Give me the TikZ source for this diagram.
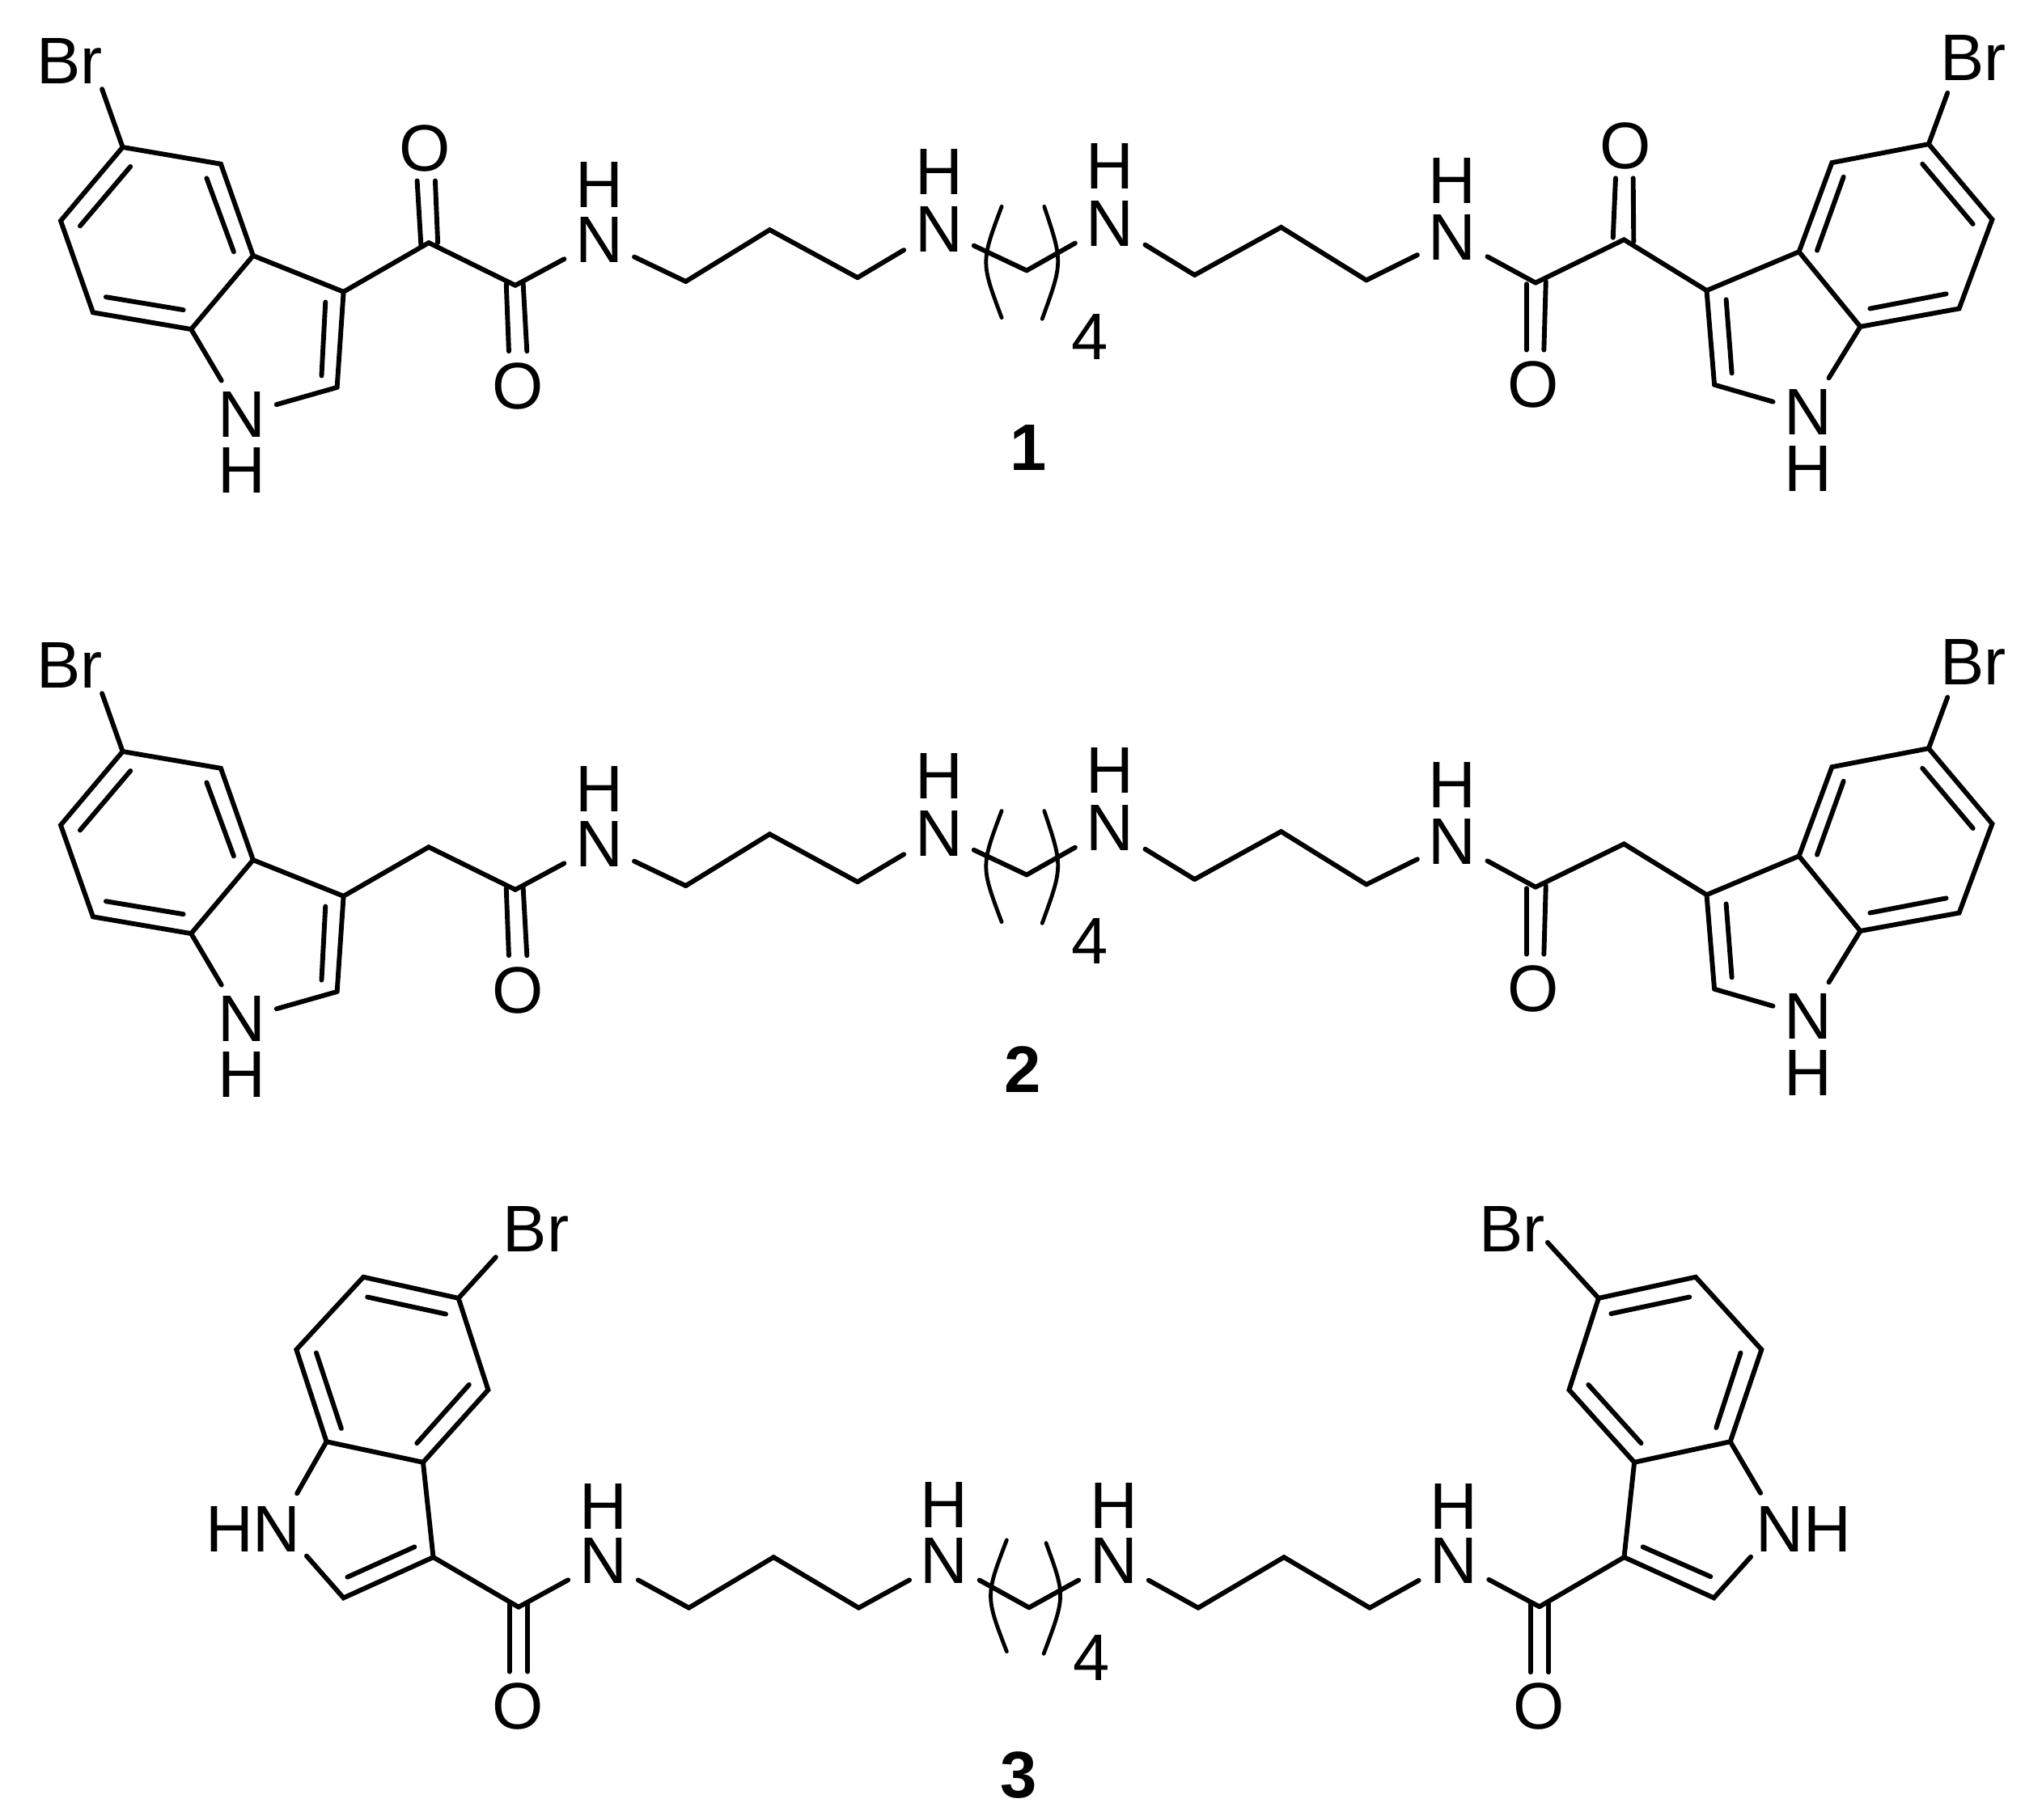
\documentclass[tikz,border=0pt]{standalone}
\usepackage{fontspec}
\setmainfont{Liberation Sans}
\tikzset{
  bond/.style={line width=1.05pt,line cap=round},
  brace/.style={line width=0.85pt,line cap=round},
  atom/.style={inner sep=0.08cm,font=\fontsize{14.5}{14.5}\selectfont},
  cmpd/.style={inner sep=0pt,font=\fontsize{14.5}{14.5}\selectfont\bfseries}
}
\begin{document}
\begin{tikzpicture}[x=0.01cm,y=-0.01cm]
\useasboundingbox (0,0) rectangle (1568,1409);
\foreach \row/\dy in {a/0,b/468}{
\begin{scope}[shift={(0,\dy)},name prefix=\row-]
  \coordinate (C5) at (95,114); \coordinate (C4) at (171,127); \coordinate (C3a) at (196,198);
  \coordinate (C7a) at (148,255); \coordinate (C7) at (72,242); \coordinate (C6) at (47,171);
  \coordinate (C3) at (266,226); \coordinate (C2) at (261,300); \coordinate (BrEnd) at (79,69);
  \coordinate (CK) at (332,188); \coordinate (CO) at (399,221);
  \coordinate (Ca) at (531,218); \coordinate (Cb) at (596,178); \coordinate (Cc) at (664,215);
  \coordinate (Cd) at (795,209.5);
  \coordinate (Ce) at (925,213); \coordinate (Cf) at (992,176); \coordinate (Cg) at (1058,217);
  \coordinate (cO) at (1189,219); \coordinate (cK) at (1257.5,185.6); \coordinate (c3) at (1321.5,225);
  \coordinate (c2) at (1327.5,298); \coordinate (c3a) at (1393,195); \coordinate (c4) at (1418.5,126);
  \coordinate (c5) at (1493.4,111.6); \coordinate (c6) at (1542.6,170); \coordinate (c7) at (1517,239);
  \coordinate (c7a) at (1440.5,253); \coordinate (brEnd) at (1508,72);
  \coordinate (d1) at (101,129); \coordinate (d2) at (62,175);
  \coordinate (d3) at (160,138); \coordinate (d4) at (181,195);
  \coordinate (d5) at (82,230); \coordinate (d6) at (142,240);
  \coordinate (d7) at (252,234); \coordinate (d8) at (249,291);
  \coordinate (e1) at (1488.6,127); \coordinate (e2) at (1527.7,173.5);
  \coordinate (e3) at (1427.5,137); \coordinate (e4) at (1407,194);
  \coordinate (e5) at (1448,239); \coordinate (e6) at (1507,227.6);
  \coordinate (e7) at (1336.6,232); \coordinate (e8) at (1341,289);
  \coordinate (f1) at (392,220); \coordinate (f2) at (394,272);
  \coordinate (f3) at (405,218); \coordinate (f4) at (408,272);
  \coordinate (g1) at (1182,220); \coordinate (g2) at (1182,271);
  \coordinate (g3) at (1197,218); \coordinate (g4) at (1195.5,271);
  \coordinate (pa) at (775.6,160); \coordinate (pb) at (775.6,246);
  \coordinate (pc) at (808.6,160); \coordinate (pd) at (807,247);
  \node[atom] (Br) at (54,47) {Br};
  \node[atom] (N1) at (187,321) {N};
  \node[atom] (H1) at (187,364) {H};
  \node[atom] (O1) at (401,299) {O};
  \node[atom] (N2) at (464,186) {N};
  \node[atom] (H2) at (464,143) {H};
  \node[atom] (N3) at (727,177.5) {N};
  \node[atom] (H3) at (727,133) {H};
  \node[atom] (N4) at (859.6,173) {N};
  \node[atom] (H4) at (859.6,129) {H};
  \node[atom] (N5) at (1124.6,184) {N};
  \node[atom] (H5) at (1124.6,140) {H};
  \node[atom] (O2) at (1187,297.6) {O};
  \node[atom] (N6) at (1400,319) {N};
  \node[atom] (H6) at (1400,363) {H};
  \node[atom] (br) at (1528,45) {Br};
  \node[atom] (four) at (844,261) {4};
  \draw[bond] (C5)--(C4)--(C3a)--(C7a)--(C7)--(C6)--cycle;
  \draw[bond] (C5)--(BrEnd);
  \draw[bond] (d1)--(d2); \draw[bond] (d3)--(d4); \draw[bond] (d5)--(d6); \draw[bond] (d7)--(d8);
  \draw[bond] (C7a)--(N1); \draw[bond] (N1)--(C2);
  \draw[bond] (C2)--(C3)--(C3a);
  \draw[bond] (C3)--(CK)--(CO);
  \draw[bond] (f1)--(f2); \draw[bond] (f3)--(f4);
  \draw[bond] (CO)--(N2); \draw[bond] (N2)--(Ca);
  \draw[bond] (Ca)--(Cb)--(Cc); \draw[bond] (Cc)--(N3);
  \draw[bond] (N3)--(Cd); \draw[bond] (Cd)--(N4);
  \draw[bond] (N4)--(Ce); \draw[bond] (Ce)--(Cf)--(Cg); \draw[bond] (Cg)--(N5);
  \draw[bond] (N5)--(cO); \draw[bond] (cO)--(cK)--(c3);
  \draw[bond] (g1)--(g2); \draw[bond] (g3)--(g4);
  \draw[bond] (c3)--(c2); \draw[bond] (c2)--(N6); \draw[bond] (N6)--(c7a);
  \draw[bond] (c3)--(c3a);
  \draw[bond] (c5)--(c4)--(c3a)--(c7a)--(c7)--(c6)--cycle;
  \draw[bond] (c5)--(brEnd);
  \draw[bond] (e1)--(e2); \draw[bond] (e3)--(e4); \draw[bond] (e5)--(e6); \draw[bond] (e7)--(e8);
  \draw[brace] (pa) .. controls (759.5,203) .. (pb);
  \draw[brace] (pc) .. controls (823,203) .. (pd);
\end{scope}
}
  \coordinate (k1) at (326,190); \coordinate (k2) at (323,140);
  \coordinate (k3) at (339,188); \coordinate (k4) at (337,140);
  \coordinate (k5) at (1249,184); \coordinate (k6) at (1251,138);
  \coordinate (k7) at (1265,187); \coordinate (k8) at (1264.6,138);
  \node[atom] (O3) at (329,115) {O};
  \node[atom] (O4) at (1258.6,113) {O};
  \draw[bond] (k1)--(k2); \draw[bond] (k3)--(k4);
  \draw[bond] (k5)--(k6); \draw[bond] (k7)--(k8);
  \node[cmpd] (one) at (796,347) {1};
  \node[cmpd] (two) at (792,828) {2};

  \coordinate (C5) at (355,1005.4); \coordinate (C4) at (378,1076.4); \coordinate (C3a) at (327.6,1132.5);
  \coordinate (C7a) at (252.8,1116.5); \coordinate (C7) at (229.5,1045.2); \coordinate (C6) at (281.4,989);
  \coordinate (C3) at (335.5,1206); \coordinate (C2) at (266,1237.5);
  \coordinate (BrEnd) at (383.9,973.6); \coordinate (NLa) at (230,1156.6); \coordinate (NLb) at (237.4,1205);
  \coordinate (CO) at (401.5,1244.6);
  \coordinate (Ca) at (533.4,1245.2); \coordinate (Cb) at (599,1206); \coordinate (Cc) at (664.9,1245.2);
  \coordinate (Cd) at (796.8,1245);
  \coordinate (Ce) at (927.8,1245.2); \coordinate (Cf) at (994.2,1206); \coordinate (Cg) at (1060.6,1245.2);
  \coordinate (cO) at (1192,1244.3); \coordinate (c3) at (1257.6,1206); \coordinate (c2) at (1327.1,1237.5);
  \coordinate (c3a) at (1265.5,1132.5); \coordinate (c4) at (1215,1076.4); \coordinate (c5) at (1237.8,1005.4);
  \coordinate (c6) at (1313,989); \coordinate (c7) at (1364,1045.2); \coordinate (c7a) at (1339.8,1116.5);
  \coordinate (brEnd) at (1198.3,962.2); \coordinate (NRa) at (1363.2,1156.3); \coordinate (NRb) at (1355.7,1205.7);
  \coordinate (d1) at (284.5,1004.5); \coordinate (d2) at (345.2,1017.7);
  \coordinate (d3) at (363.2,1072.4); \coordinate (d4) at (322.8,1117.7);
  \coordinate (d5) at (244.9,1047.7); \coordinate (d6) at (264.3,1106.3);
  \coordinate (d7) at (321,1198); \coordinate (d8) at (269,1221.4);
  \coordinate (e1) at (1247.5,1017.4); \coordinate (e2) at (1308.2,1004.5);
  \coordinate (e3) at (1229.9,1072.4); \coordinate (e4) at (1270.8,1117.7);
  \coordinate (e5) at (1347.8,1047.7); \coordinate (e6) at (1328.9,1105.7);
  \coordinate (e7) at (1272.1,1198); \coordinate (e8) at (1324.5,1221);
  \coordinate (f1) at (394.4,1242); \coordinate (f2) at (394.4,1294.6);
  \coordinate (f3) at (408.5,1242); \coordinate (f4) at (408.5,1294.6);
  \coordinate (g1) at (1185,1242); \coordinate (g2) at (1185,1295);
  \coordinate (g3) at (1199,1242); \coordinate (g4) at (1199,1295);
  \coordinate (pa) at (779.5,1192.7); \coordinate (pb) at (779.5,1279);
  \coordinate (pc) at (810,1195); \coordinate (pd) at (808.2,1280.7);
  \node[atom] (Br) at (415,952) {Br};
  \node[atom] (HN) at (196,1184) {HN};
  \node[atom] (O1) at (401,1321.7) {O};
  \node[atom] (N2) at (467,1208.8) {N};
  \node[atom] (H2) at (467,1166.5) {H};
  \node[atom] (N3) at (731.3,1208.8) {N};
  \node[atom] (H3) at (731.3,1165.6) {H};
  \node[atom] (N4) at (862.3,1208.8) {N};
  \node[atom] (H4) at (862.3,1165.9) {H};
  \node[atom] (N5) at (1125.7,1208.8) {N};
  \node[atom] (H5) at (1125.7,1166.5) {H};
  \node[atom] (O2) at (1191.7,1321.7) {O};
  \node[atom] (NH) at (1396.6,1184) {NH};
  \node[atom] (br) at (1171,952) {Br};
  \node[atom] (four) at (845,1284) {4};
  \node[cmpd] (three) at (789,1375) {3};
  \draw[bond] (C5)--(C4)--(C3a)--(C7a)--(C7)--(C6)--cycle;
  \draw[bond] (C5)--(BrEnd);
  \draw[bond] (d1)--(d2); \draw[bond] (d3)--(d4); \draw[bond] (d5)--(d6); \draw[bond] (d7)--(d8);
  \draw[bond] (C7a)--(NLa); \draw[bond] (NLb)--(C2)--(C3)--(C3a);
  \draw[bond] (C3)--(CO);
  \draw[bond] (f1)--(f2); \draw[bond] (f3)--(f4);
  \draw[bond] (CO)--(N2); \draw[bond] (N2)--(Ca);
  \draw[bond] (Ca)--(Cb)--(Cc); \draw[bond] (Cc)--(N3);
  \draw[bond] (N3)--(Cd); \draw[bond] (Cd)--(N4);
  \draw[bond] (N4)--(Ce); \draw[bond] (Ce)--(Cf)--(Cg); \draw[bond] (Cg)--(N5);
  \draw[bond] (N5)--(cO); \draw[bond] (cO)--(c3);
  \draw[bond] (g1)--(g2); \draw[bond] (g3)--(g4);
  \draw[bond] (c3a)--(c3)--(c2)--(NRb); \draw[bond] (NRa)--(c7a);
  \draw[bond] (c5)--(c4)--(c3a)--(c7a)--(c7)--(c6)--cycle;
  \draw[bond] (c5)--(brEnd);
  \draw[bond] (e1)--(e2); \draw[bond] (e3)--(e4); \draw[bond] (e5)--(e6); \draw[bond] (e7)--(e8);
  \draw[brace] (pa) .. controls (763,1236) .. (pb);
  \draw[brace] (pc) .. controls (825,1236) .. (pd);
\end{tikzpicture}
\end{document}
